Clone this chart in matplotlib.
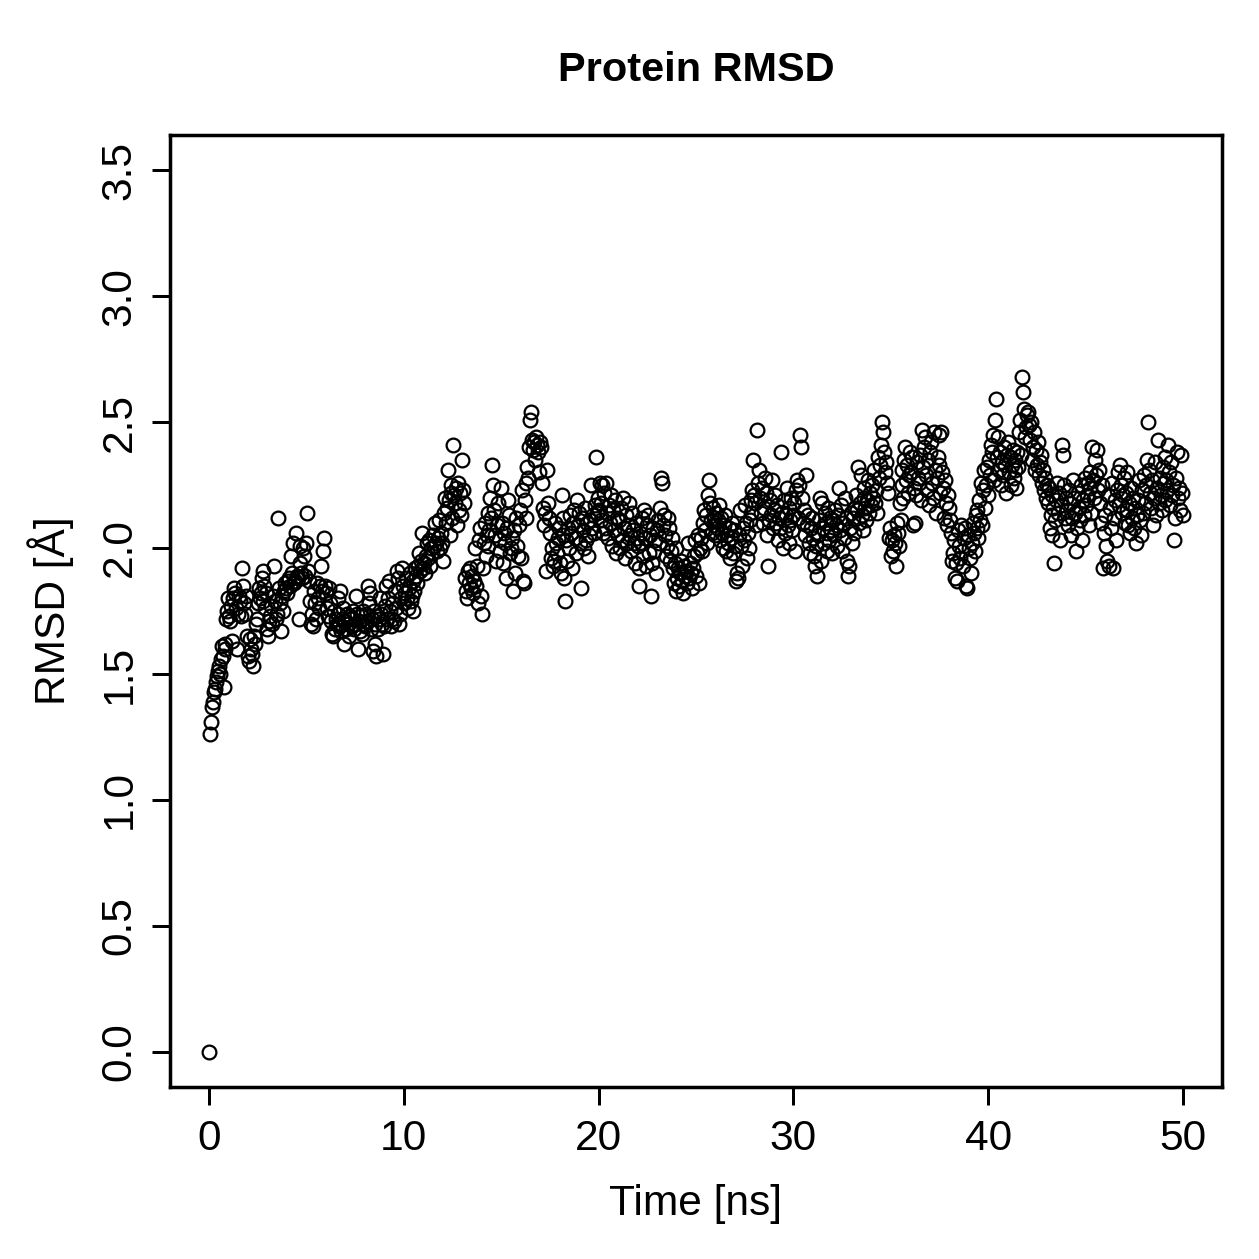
import numpy as np
import matplotlib
matplotlib.use("Agg")
import matplotlib.pyplot as plt

plt.rcParams['font.family'] = ['Liberation Sans', 'DejaVu Sans']

# RMSD values, one frame every 0.05 ns (one row = 1 ns)
rmsd = [0.00,
    1.26, 1.31, 1.37, 1.39, 1.43, 1.44, 1.47, 1.49, 1.51, 1.53, 1.50, 1.56, 1.61, 1.57, 1.45, 1.60, 1.62, 1.72, 1.75, 1.80,
    1.73, 1.71, 1.77, 1.63, 1.80, 1.84, 1.82, 1.76, 1.60, 1.74, 1.81, 1.79, 1.73, 1.92, 1.85, 1.78, 1.74, 1.81, 1.65, 1.57,
    1.55, 1.64, 1.60, 1.58, 1.53, 1.65, 1.62, 1.70, 1.72, 1.78, 1.84, 1.80, 1.82, 1.88, 1.91, 1.79, 1.85, 1.76, 1.82, 1.68,
    1.65, 1.71, 1.73, 1.77, 1.70, 1.81, 1.93, 1.79, 1.72, 1.74, 2.12, 1.84, 1.78, 1.67, 1.81, 1.75, 1.83, 1.86, 1.84, 1.82,
    1.87, 1.88, 1.85, 1.97, 1.90, 2.02, 1.86, 1.87, 2.06, 1.89, 1.88, 1.72, 1.94, 2.01, 1.90, 1.88, 2.00, 1.97, 1.89, 2.02,
    2.14, 1.91, 1.87, 1.79, 1.70, 1.74, 1.69, 1.83, 1.78, 1.72, 1.86, 1.80, 1.76, 1.85, 1.93, 1.83, 1.99, 2.04, 1.85, 1.82,
    1.76, 1.73, 1.84, 1.78, 1.71, 1.66, 1.65, 1.75, 1.68, 1.72, 1.70, 1.80, 1.74, 1.69, 1.83, 1.67, 1.72, 1.76, 1.62, 1.71,
    1.68, 1.74, 1.70, 1.65, 1.73, 1.72, 1.69, 1.75, 1.68, 1.70, 1.81, 1.74, 1.60, 1.71, 1.67, 1.73, 1.66, 1.75, 1.70, 1.69,
    1.74, 1.71, 1.85, 1.78, 1.82, 1.68, 1.72, 1.59, 1.75, 1.70, 1.62, 1.57, 1.73, 1.68, 1.72, 1.80, 1.74, 1.70, 1.58, 1.69,
    1.77, 1.85, 1.72, 1.80, 1.87, 1.75, 1.69, 1.72, 1.78, 1.71, 1.83, 1.76, 1.91, 1.88, 1.70, 1.74, 1.80, 1.92, 1.85, 1.78,
    1.82, 1.88, 1.80, 1.76, 1.84, 1.90, 1.79, 1.81, 1.87, 1.75, 1.83, 1.92, 1.89, 1.86, 1.93, 1.98, 1.91, 1.95, 2.06, 1.92,
    1.94, 1.90, 1.97, 2.02, 1.96, 2.03, 1.93, 2.00, 1.98, 2.05, 2.01, 2.10, 2.02, 1.99, 2.04, 2.11, 2.00, 2.06, 2.02, 1.95,
    2.14, 2.20, 2.10, 2.16, 2.31, 2.19, 2.05, 2.22, 2.25, 2.12, 2.41, 2.21, 2.18, 2.24, 2.09, 2.26, 2.15, 2.22, 2.13, 2.35,
    2.23, 2.18, 1.88, 1.83, 1.80, 1.91, 1.86, 1.92, 1.84, 1.89, 1.82, 1.87, 2.00, 1.85, 1.93, 1.78, 2.03, 2.08, 1.81, 1.74,
    1.92, 2.02, 2.10, 1.97, 2.05, 2.14, 2.01, 2.07, 2.20, 2.12, 2.33, 2.25, 2.15, 2.05, 1.95, 2.09, 2.18, 2.03, 1.99, 2.24,
    2.10, 1.94, 2.06, 2.02, 1.88, 2.08, 2.19, 2.13, 1.98, 2.00, 2.04, 1.83, 2.07, 1.90, 2.12, 2.01, 1.97, 2.09, 2.15, 1.96,
    2.23, 1.87, 1.86, 2.19, 2.12, 2.26, 2.32, 2.28, 2.40, 2.51, 2.54, 2.43, 2.39, 2.42, 2.35, 2.44, 2.41, 2.38, 2.30, 2.42,
    2.40, 2.26, 2.16, 2.09, 2.14, 1.91, 2.31, 2.18, 2.12, 2.06, 1.96, 2.00, 1.93, 1.95, 2.10, 2.02, 1.98, 2.04, 2.08, 1.94,
    1.90, 2.21, 2.12, 2.05, 1.88, 1.79, 2.03, 1.95, 2.08, 2.00, 2.13, 2.06, 1.92, 2.10, 2.15, 2.04, 1.98, 2.19, 2.09, 2.14,
    2.02, 1.84, 2.12, 2.07, 2.00, 2.16, 2.03, 2.10, 1.97, 2.05, 2.11, 2.25, 2.08, 2.13, 2.06, 2.17, 2.36, 2.14, 2.20, 2.15,
    2.26, 2.18, 2.11, 2.25, 2.06, 2.22, 2.08, 2.26, 2.14, 2.04, 2.17, 2.10, 2.21, 2.01, 2.15, 2.07, 2.19, 1.98, 2.12, 2.05,
    2.11, 2.00, 2.16, 2.03, 2.20, 2.08, 1.96, 2.13, 2.02, 2.09, 2.18, 2.05, 1.99, 2.14, 2.07, 2.02, 1.94, 2.10, 2.04, 2.01,
    1.85, 1.92, 2.06, 2.02, 2.12, 1.97, 2.15, 2.04, 1.93, 2.09, 2.13, 1.98, 2.05, 1.81, 1.94, 2.08, 1.99, 2.03, 1.90, 2.07,
    2.11, 2.02, 2.16, 2.28, 2.26, 2.09, 2.13, 2.05, 1.97, 2.01, 2.12, 2.08, 1.95, 1.99, 2.04, 1.92, 1.86, 1.94, 2.00, 1.83,
    1.88, 1.92, 1.85, 1.90, 1.95, 1.87, 1.82, 1.93, 1.89, 1.91, 1.86, 2.02, 1.88, 1.94, 1.90, 1.84, 1.92, 1.97, 2.03, 1.89,
    1.98, 2.05, 1.86, 2.00, 2.04, 1.99, 2.10, 2.15, 2.07, 2.13, 2.02, 2.21, 2.27, 2.18, 2.11, 2.06, 2.16, 2.09, 2.12, 2.05,
    2.14, 2.08, 2.11, 2.17, 2.03, 2.12, 2.06, 2.00, 2.09, 2.13, 1.99, 2.05, 2.02, 2.08, 1.96, 2.04, 2.10, 1.98, 2.07, 2.01,
    1.87, 1.90, 1.88, 2.05, 2.15, 2.01, 1.93, 2.08, 2.03, 2.17, 2.10, 1.96, 2.06, 2.00, 2.11, 2.19, 2.14, 2.23, 2.35, 2.21,
    2.18, 2.09, 2.47, 2.26, 2.31, 2.20, 2.14, 2.24, 2.10, 2.16, 2.28, 2.22, 2.05, 1.93, 2.11, 2.19, 2.13, 2.27, 2.08, 2.15,
    2.21, 2.10, 2.17, 2.03, 2.12, 2.08, 2.38, 2.14, 2.00, 2.19, 2.06, 2.13, 2.24, 2.09, 2.16, 2.02, 2.11, 2.20, 2.07, 2.13,
    2.18, 1.99, 2.23, 2.27, 2.12, 2.25, 2.45, 2.40, 2.20, 2.10, 2.15, 2.05, 2.29, 2.09, 2.13, 2.02, 1.98, 2.08, 2.12, 2.04,
    1.97, 1.93, 2.01, 1.89, 2.05, 2.11, 2.20, 1.95, 2.18, 2.08, 2.02, 2.14, 2.10, 2.06, 1.99, 2.16, 2.03, 2.12, 2.07, 1.98,
    2.11, 2.05, 2.15, 2.09, 2.01, 2.13, 2.24, 2.07, 2.17, 1.99, 2.10, 2.04, 2.20, 2.12, 1.95, 1.89, 1.93, 2.08, 2.14, 2.02,
    2.12, 2.06, 2.16, 2.21, 2.15, 2.32, 2.10, 2.18, 2.29, 2.13, 2.07, 2.20, 2.24, 2.16, 2.11, 2.19, 2.27, 2.14, 2.22, 2.17,
    2.25, 2.20, 2.31, 2.18, 2.23, 2.14, 2.36, 2.28, 2.33, 2.41, 2.50, 2.46, 2.38, 2.30, 2.34, 2.26, 2.22, 2.04, 2.08, 1.97,
    2.03, 1.99, 2.05, 2.02, 1.93, 2.10, 2.06, 2.01, 2.18, 2.11, 2.25, 2.31, 2.20, 2.35, 2.40, 2.27, 2.33, 2.22, 2.29, 2.38,
    2.30, 2.36, 2.09, 2.24, 2.10, 2.21, 2.34, 2.28, 2.26, 2.37, 2.19, 2.47, 2.32, 2.40, 2.44, 2.29, 2.23, 2.35, 2.17, 2.38,
    2.42, 2.26, 2.20, 2.46, 2.31, 2.14, 2.28, 2.36, 2.45, 2.33, 2.22, 2.46, 2.30, 2.24, 2.12, 2.27, 2.18, 2.09, 2.21, 2.16,
    2.11, 2.06, 1.95, 1.98, 2.03, 1.88, 1.94, 1.87, 2.07, 2.01, 1.96, 2.09, 1.99, 1.93, 2.04, 2.08, 1.85, 1.84, 2.05, 2.00,
    1.96, 1.90, 2.02, 2.10, 2.06, 1.99, 2.13, 2.08, 2.15, 2.04, 2.19, 2.11, 2.26, 2.09, 2.23, 2.31, 2.16, 2.25, 2.32, 2.21,
    2.35, 2.29, 2.41, 2.38, 2.45, 2.27, 2.51, 2.59, 2.36, 2.44, 2.31, 2.38, 2.25, 2.34, 2.29, 2.40, 2.33, 2.22, 2.37, 2.42,
    2.30, 2.36, 2.25, 2.33, 2.39, 2.28, 2.35, 2.31, 2.24, 2.38, 2.32, 2.46, 2.51, 2.37, 2.68, 2.62, 2.55, 2.44, 2.48, 2.53,
    2.54, 2.49, 2.43, 2.50, 2.35, 2.40, 2.46, 2.31, 2.39, 2.33, 2.42, 2.29, 2.34, 2.37, 2.26, 2.31, 2.23, 2.28, 2.20, 2.25,
    2.18, 2.24, 2.08, 2.13, 2.21, 2.05, 2.16, 1.94, 2.11, 2.19, 2.26, 2.14, 2.22, 2.03, 2.17, 2.41, 2.37, 2.25, 2.12, 2.20,
    2.15, 2.09, 2.23, 2.18, 2.05, 2.12, 2.27, 2.20, 2.14, 1.99, 2.08, 2.22, 2.16, 2.11, 2.25, 2.03, 2.19, 2.13, 2.28, 2.17,
    2.21, 2.26, 2.09, 2.30, 2.24, 2.14, 2.40, 2.27, 2.20, 2.35, 2.29, 2.39, 2.23, 2.31, 2.18, 2.10, 2.25, 1.92, 2.06, 2.13,
    2.01, 1.95, 2.21, 1.93, 2.16, 2.08, 2.26, 1.92, 2.12, 2.19, 2.03, 2.23, 2.30, 2.17, 2.33, 2.25, 2.14, 2.21, 2.28, 2.10,
    2.22, 2.15, 2.30, 2.09, 2.18, 2.06, 2.24, 2.12, 2.20, 2.08, 2.16, 2.02, 2.13, 2.19, 2.27, 2.11, 2.05, 2.23, 2.14, 2.29,
    2.18, 2.25, 2.35, 2.50, 2.31, 2.22, 2.16, 2.27, 2.09, 2.20, 2.34, 2.13, 2.24, 2.43, 2.18, 2.28, 2.21, 2.15, 2.32, 2.26,
    2.36, 2.19, 2.27, 2.23, 2.41, 2.30, 2.17, 2.34, 2.21, 2.25, 2.03, 2.12, 2.28, 2.38, 2.20, 2.24, 2.15, 2.37, 2.22, 2.13,
]
time_step = 0.05  # ns between frames
time_ns = np.arange(len(rmsd)) * time_step

x_ticks = [0, 10, 20, 30, 40, 50]
y_ticks = [0.0, 0.5, 1.0, 1.5, 2.0, 2.5, 3.0, 3.5]

fig = plt.figure(figsize=(1259 / 180, 1259 / 180), dpi=180)
ax = fig.add_axes([0.135, 0.1366, 0.8356, 0.7562])

ax.plot(time_ns, rmsd, linestyle='none', marker='o', markersize=5.5,
        markerfacecolor='none', markeredgecolor='black', markeredgewidth=0.9)

ax.set_xlim(-2, 52)
ax.set_ylim(-0.14, 3.64)
ax.set_xticks(x_ticks)
ax.set_yticks(y_ticks)
ax.set_yticklabels([f"{v:.1f}" for v in y_ticks], rotation=90, va='center')

ax.tick_params(direction='out', length=7.2, width=1.2, labelsize=17)
ax.tick_params(axis='x', pad=5.4)
ax.tick_params(axis='y', pad=5)
for s in ax.spines.values():
    s.set_linewidth(1.4)

ax.set_xlabel('Time [ns]', fontsize=17, labelpad=10)
ax.set_ylabel('RMSD [Å]', fontsize=17, labelpad=10)
# title centred over the plot region, as R does
fig.text(0.135 + 0.8356 / 2, 1 - 70 / 1259, 'Protein RMSD', fontsize=16.6,
         fontweight='bold', ha='center', va='center')

fig.savefig('out.png', dpi=180)
